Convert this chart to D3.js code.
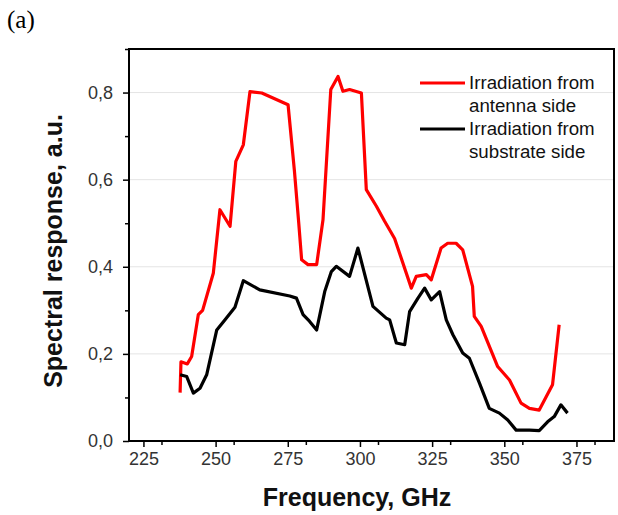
<!DOCTYPE html>
<html>
<head>
<meta charset="utf-8">
<script src="https://cdn.jsdelivr.net/npm/d3@7"></script>
<style>
  body { margin: 0; background: #fff; }
  svg { display: block; }
</style>
</head>
<body>
<svg width="618" height="515"></svg>
<script>
// red: irradiation from antenna side
const freqAntenna = [237.7, 238.0, 240.2, 241.7, 244.0, 245.5, 249.2, 251.5, 255.0, 257.0, 259.6, 261.9, 266.0, 275.1, 277.3, 278.8, 279.8, 282.0, 285.0, 287.2, 289.9, 292.4, 294.1, 296.4, 300.5, 302.2, 305.7, 308.5, 312.0, 317.8, 319.5, 323.0, 324.7, 328.1, 330.4, 333.3, 335.6, 339.0, 339.6, 342.0, 347.7, 351.8, 355.8, 358.7, 362.1, 366.7, 369.0];
const valAntenna = [0.111, 0.182, 0.177, 0.194, 0.290, 0.300, 0.385, 0.531, 0.493, 0.642, 0.680, 0.802, 0.799, 0.772, 0.620, 0.500, 0.416, 0.405, 0.405, 0.508, 0.807, 0.837, 0.803, 0.807, 0.799, 0.577, 0.539, 0.505, 0.465, 0.351, 0.378, 0.382, 0.370, 0.443, 0.454, 0.454, 0.439, 0.355, 0.286, 0.263, 0.171, 0.140, 0.087, 0.075, 0.071, 0.129, 0.267];

// black: irradiation from substrate side
const freqSubstrate = [237.7, 240.0, 242.3, 244.6, 246.9, 250.4, 253.2, 256.7, 259.6, 265.3, 275.7, 278.0, 280.3, 282.5, 285.0, 287.8, 290.1, 291.8, 296.4, 299.3, 304.5, 309.1, 310.3, 312.6, 315.5, 317.2, 320.1, 322.4, 324.7, 327.6, 329.9, 332.2, 335.6, 337.9, 341.4, 344.8, 348.3, 351.2, 354.1, 358.7, 362.1, 365.0, 367.3, 369.6, 371.9];
const valSubstrate = [0.152, 0.148, 0.110, 0.121, 0.152, 0.255, 0.278, 0.307, 0.368, 0.347, 0.333, 0.328, 0.290, 0.275, 0.255, 0.343, 0.389, 0.401, 0.378, 0.443, 0.309, 0.282, 0.278, 0.225, 0.221, 0.297, 0.328, 0.351, 0.324, 0.343, 0.278, 0.244, 0.202, 0.190, 0.133, 0.075, 0.064, 0.048, 0.025, 0.025, 0.024, 0.044, 0.056, 0.083, 0.064];

const xTicks = [225, 250, 275, 300, 325, 350, 375];
const yTicks = [0, 0.2, 0.4, 0.6, 0.8];
const legendLabels = [["Irradiation from", "antenna side"], ["Irradiation from", "substrate side"]];

const svg = d3.select("svg");

const area = { left: 129, right: 614, top: 49, bottom: 441 };

const scX = d3.scaleLinear().domain([220, 388]).range([area.left, area.right]);
const scY = d3.scaleLinear().domain([0, 0.9]).range([area.bottom, area.top]);

// panel letter
svg.append("text")
    .attr("x", 7).attr("y", 28)
    .style("font-family", "'Liberation Serif', 'Times New Roman', serif")
    .style("font-size", "25px")
    .text("(a)");

// faint gridlines
svg.append("g")
    .selectAll("line")
    .data(yTicks.slice(1))
    .enter()
    .append("line")
    .attr("x1", area.left).attr("x2", area.right)
    .attr("y1", d => scY(d)).attr("y2", d => scY(d))
    .style("stroke", "#e4e4e4")
    .style("stroke-width", 1);

const fmt = d => d3.format(".1f")(d).replace(".", ",");

// minor ticks
svg.append("g")
    .attr("transform", `translate(0, ${area.bottom})`)
    .call(d3.axisBottom(scX).tickValues(d3.range(231.25, 388, 25)).tickSize(4).tickFormat(""))
    .call(g => g.select(".domain").remove());
svg.append("g")
    .attr("transform", `translate(${area.left}, 0)`)
    .call(d3.axisLeft(scY).tickValues([0.1, 0.3, 0.5, 0.7, 0.9]).tickSize(4).tickFormat(""))
    .call(g => g.select(".domain").remove());

// main axes
let axX = svg.append("g")
    .attr("transform", `translate(0, ${area.bottom})`)
    .call(d3.axisBottom(scX).tickValues(xTicks).tickSize(6).tickPadding(5));
let axY = svg.append("g")
    .attr("transform", `translate(${area.left}, 0)`)
    .call(d3.axisLeft(scY).tickValues(yTicks).tickSize(6).tickPadding(10).tickFormat(fmt));

[axX, axY].forEach(ax => {
    ax.select(".domain").remove();
    ax.selectAll("text")
        .style("font-family", "'Liberation Sans', Arial, sans-serif")
        .style("font-size", "18px")
        .style("fill", "#333");
});
svg.selectAll(".tick line").style("stroke", "#000").style("stroke-width", 1.5);

// frame
svg.append("rect")
    .attr("x", area.left).attr("y", area.top)
    .attr("width", area.right - area.left).attr("height", area.bottom - area.top)
    .style("fill", "none")
    .style("stroke", "#000")
    .style("stroke-width", 2);

// curves
const line = d3.line().x(d => scX(d[0])).y(d => scY(d[1]));
const series = [
    { pts: d3.zip(freqAntenna, valAntenna), color: "#ff0000" },
    { pts: d3.zip(freqSubstrate, valSubstrate), color: "#000000" }
];
series.forEach(s => {
    svg.append("path")
        .attr("d", line(s.pts))
        .style("fill", "none")
        .style("stroke", s.color)
        .style("stroke-width", 3.2)
        .style("stroke-linejoin", "round");
});

// legend
const lg = svg.append("g").attr("transform", "translate(420, 83)");
series.forEach((s, i) => {
    let row = lg.append("g").attr("transform", `translate(0, ${i * 46})`);
    row.append("line")
        .attr("x1", 0).attr("x2", 45)
        .style("stroke", s.color)
        .style("stroke-width", 3);
    legendLabels[i].forEach((t, j) => {
        row.append("text")
            .attr("x", 49).attr("y", 6 + j * 23)
            .style("font-family", "'Liberation Sans', Arial, sans-serif")
            .style("font-size", "18.7px")
            .style("fill", "#111")
            .text(t);
    });
});

// axis titles
svg.append("text")
    .attr("x", 357).attr("y", 506)
    .attr("text-anchor", "middle")
    .style("font-family", "'Liberation Sans', Arial, sans-serif")
    .style("font-size", "25px")
    .style("font-weight", "bold")
    .style("fill", "#111")
    .text("Frequency, GHz");

svg.append("text")
    .attr("transform", "translate(62, 251) rotate(-90)")
    .attr("text-anchor", "middle")
    .style("font-family", "'Liberation Sans', Arial, sans-serif")
    .style("font-size", "25px")
    .style("font-weight", "bold")
    .style("fill", "#111")
    .text("Spectral response, a.u.");
</script>
</body>
</html>
